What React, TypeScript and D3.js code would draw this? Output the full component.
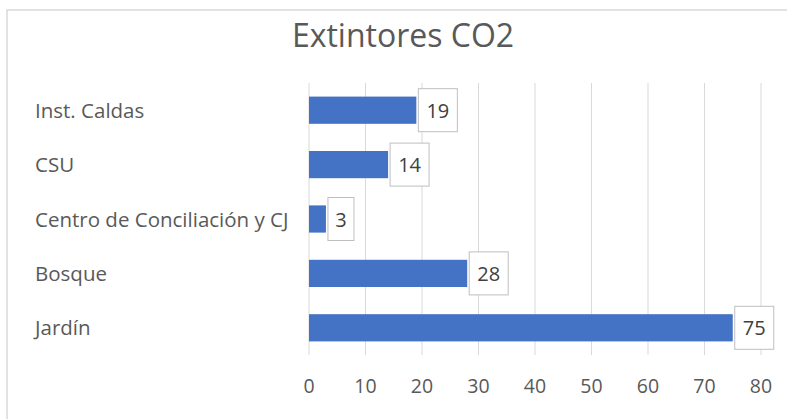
import React from "react";
import * as d3 from "d3";

const categories = ["Inst. Caldas", "CSU", "Centro de Conciliación y CJ", "Bosque", "Jardín"];
const values = [19, 14, 3, 28, 75];
const ticks = [0, 10, 20, 30, 40, 50, 60, 70, 80];
const title = "Extintores CO2";

const W = 787;
const H = 419;
const font = "'Open Sans', sans-serif";

export default function App() {
  const x = d3.scaleLinear().domain([0, 80]).range([309, 761]);
  const y = d3.scaleBand<string>().domain(categories).range([83, 355]).paddingInner(0.5).paddingOuter(0.25);
  return (
    <svg width={W} height={H} style={{ position: "absolute", left: 0, top: 0 }}>
      <rect x={0} y={0} width={W} height={H} fill="#fff" />
      <rect x={7} y={10} width={W} height={H} fill="#fff" stroke="#d9d9d9" strokeWidth={1.5} />
      <text x={403} y={47} textAnchor="middle" fontFamily={font} fontSize={32} fill="#595959">{title}</text>
      {ticks.map((t) => (
        <g key={t}>
          <line x1={x(t)} x2={x(t)} y1={83} y2={355} stroke="#d9d9d9" strokeWidth={1} />
          <text x={x(t)} y={393} textAnchor="middle" fontFamily={font} fontSize={19.5} fill="#595959">{t}</text>
        </g>
      ))}
      {categories.map((c, i) => {
        const yc = (y(c) as number) + y.bandwidth() / 2;
        const v = values[i];
        const label = String(v);
        const bw = label.length === 1 ? 26 : 39;
        const bx = x(v) + 2;
        return (
          <g key={c}>
            <text x={35} y={yc + 7.5} fontFamily={font} fontSize={20.5} fill="#595959">{c}</text>
            <rect x={x(0)} y={y(c)} width={x(v) - x(0)} height={y.bandwidth()} fill="#4472c4" />
            <rect x={bx} y={yc - 21.5} width={bw} height={43} fill="#fff" stroke="#bfbfbf" strokeWidth={1} />
            <text x={bx + bw / 2} y={yc + 7.5} textAnchor="middle" fontFamily={font} fontSize={20} fill="#404040">{label}</text>
          </g>
        );
      })}
    </svg>
  );
}
